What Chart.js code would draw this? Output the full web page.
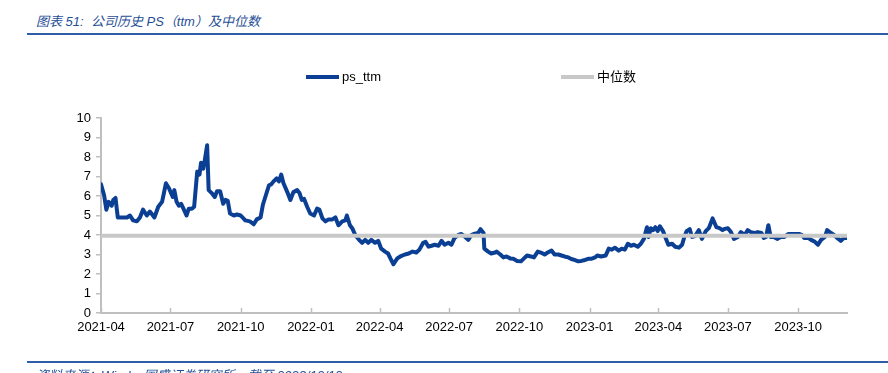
<!DOCTYPE html>
<html>
<head>
<meta charset="utf-8">
<script src="https://cdn.jsdelivr.net/npm/chart.js@4.4.1/dist/chart.umd.min.js"></script>
<style>
  body { margin: 0; width: 888px; height: 373px; overflow: hidden; background: #fff; position: relative; }
  .cap { position: absolute; left: 36px; font-style: italic; font-size: 13px; color: #1f4e96;
         font-family: "Liberation Sans", "Noto Sans CJK SC", sans-serif; white-space: nowrap; }
  .rule { position: absolute; left: 27px; right: 0; height: 2px; background: #2f5ea6; }
  #wrap { position: absolute; left: 0; top: 0; width: 888px; height: 373px; }
</style>
</head>
<body>
<div class="cap" style="top:11px">图表 51:&nbsp; 公司历史 PS（ttm）及中位数</div>
<div class="rule" style="top:33px"></div>
<div id="wrap"><canvas id="chart"></canvas></div>
<div class="rule" style="top:361px"></div>
<div class="cap" style="top:365px">资料来源：Wind，国盛证券研究所，截至 2023/12/12</div>

<script>
// days since 2021-04-01
const startDate = '2021-04-01';
const days = [
  0, 4, 7, 10, 14, 16, 19, 22, 27, 34, 38, 42, 47, 51, 55, 60, 64, 70, 75, 80,
  85, 89, 94, 96, 99, 102, 105, 108, 112, 115, 119, 122, 126, 129, 131, 134, 136, 139, 141, 145,
  149, 152, 156, 160, 163, 166, 169, 174, 178, 183, 189, 195, 200, 204, 209, 212, 216, 220, 223, 226,
  230, 233, 236, 239, 244, 248, 252, 257, 260, 263, 266, 270, 274, 279, 283, 286, 290, 294, 298, 303,
  307, 311, 316, 320, 322, 326, 329, 333, 338, 342, 346, 350, 354, 359, 363, 367, 372, 376, 379, 383,
  388, 392, 398, 403, 408, 413, 417, 422, 425, 429, 433, 437, 442, 446, 450, 455, 459, 463, 468, 472,
  477, 481, 485, 488, 494, 497, 501, 502, 507, 511, 516, 518, 523, 527, 531, 536, 540, 545, 550, 554,
  558, 563, 567, 572, 576, 581, 585, 590, 594, 599, 603, 607, 612, 616, 620, 625, 629, 634, 638, 642,
  647, 650, 655, 661, 665, 669, 673, 678, 682, 686, 690, 694, 698, 703, 707, 711, 715, 717, 720, 723,
  726, 729, 732, 736, 740, 743, 748, 752, 757, 761, 764, 767, 771, 774, 778, 783, 787, 792, 796, 801,
  806, 810, 814, 816, 821, 825, 829, 834, 838, 843, 847, 851, 856, 860, 865, 868, 871, 874, 877, 881,
  886, 890, 895, 900, 905, 909, 915, 918, 921, 926, 930, 935, 939, 943, 948, 951, 956, 960, 964, 969,
  973, 977
];
const psTtm = [
  6.6, 6.05, 5.3, 5.7, 5.5, 5.8, 5.9, 4.9, 4.9, 4.9, 5.0, 4.75, 4.7, 4.9, 5.3, 5.0, 5.2, 4.9, 5.45, 5.7,
  6.65, 6.4, 5.95, 6.3, 5.7, 5.5, 5.6, 5.35, 5.0, 5.35, 5.35, 5.45, 7.25, 7.1, 7.7, 7.4, 7.85, 8.6, 6.3, 6.15,
  5.95, 6.25, 6.25, 5.6, 5.8, 5.75, 5.1, 5.0, 5.05, 5.0, 4.75, 4.7, 4.55, 4.8, 4.9, 5.55, 6.05, 6.55, 6.6, 6.75,
  6.9, 6.75, 7.1, 6.65, 6.2, 5.8, 6.2, 6.3, 6.15, 5.8, 5.85, 5.45, 5.1, 5.0, 5.35, 5.3, 4.85, 4.7, 4.8, 4.8,
  4.9, 4.5, 4.7, 4.75, 5.0, 4.5, 4.35, 4.0, 3.75, 3.6, 3.75, 3.6, 3.75, 3.6, 3.7, 3.3, 3.15, 3.05, 2.8, 2.5,
  2.8, 2.9, 3.0, 3.05, 3.15, 3.1, 3.25, 3.6, 3.65, 3.4, 3.45, 3.5, 3.45, 3.7, 3.5, 3.6, 3.5, 3.85, 4.0, 4.05,
  3.9, 3.75, 4.0, 4.05, 4.1, 4.3, 4.1, 3.3, 3.15, 3.05, 3.1, 3.15, 3.0, 2.85, 2.9, 2.8, 2.78, 2.67, 2.65, 2.8,
  2.95, 2.9, 2.85, 3.15, 3.1, 3.0, 3.1, 3.2, 3.0, 3.0, 2.95, 2.9, 2.85, 2.77, 2.72, 2.65, 2.67, 2.72, 2.78, 2.78,
  2.85, 2.95, 2.9, 2.95, 3.3, 3.25, 3.35, 3.2, 3.3, 3.25, 3.55, 3.45, 3.5, 3.4, 3.55, 3.8, 4.4, 3.9, 4.35, 4.25,
  4.4, 4.2, 4.45, 4.2, 3.8, 3.5, 3.55, 3.4, 3.35, 3.5, 3.9, 4.2, 4.3, 3.9, 3.95, 4.25, 3.8, 4.2, 4.35, 4.85,
  4.4, 4.35, 4.25, 4.3, 4.35, 4.15, 3.8, 3.9, 4.15, 4.0, 4.25, 4.15, 4.1, 4.15, 4.1, 3.85, 3.9, 4.5, 3.9, 3.9,
  3.8, 3.9, 3.9, 4.05, 4.05, 4.05, 4.05, 4.0, 3.85, 3.85, 3.75, 3.65, 3.5, 3.75, 3.9, 4.25, 4.1, 4.0, 3.85, 3.7,
  3.85, 3.85
];
const medianPs = 3.96;
const seriesNames = ['ps_ttm', '中位数'];
const seriesColors = ['#0b3f94', '#c8c8c8'];
const tickLabels = ['2021-04', '2021-07', '2021-10', '2022-01', '2022-04', '2022-07',
                    '2022-10', '2023-01', '2023-04', '2023-07', '2023-10'];

const dayMs = 86400000;
const tickDays = tickLabels.map(t => Math.round((Date.parse(t + '-01') - Date.parse(startDate)) / dayMs));
const lastDay = days[days.length - 1];

// legend drawn as short thick lines, plus inward x ticks
const extras = {
  id: 'extras',
  afterDraw(chart) {
    const ctx = chart.ctx;
    const area = chart.chartArea;
    ctx.save();
    // x tick marks pointing into the plot
    const xs = chart.scales.x;
    ctx.strokeStyle = '#bfbfbf';
    ctx.lineWidth = 1.5;
    tickDays.forEach(d => {
      const px = Math.round(xs.getPixelForValue(d)) + 0.5;
      ctx.beginPath();
      ctx.moveTo(px, area.bottom);
      ctx.lineTo(px, area.bottom - 5);
      ctx.stroke();
    });
    // legend
    ctx.font = '13px "Liberation Sans", "Noto Sans CJK SC", sans-serif';
    ctx.textBaseline = 'middle';
    const lineW = 33, gap = 3, between = 180;
    const widths = seriesNames.map(n => lineW + gap + ctx.measureText(n).width);
    const total = widths[0] + between + widths[1];
    let x = (area.left + area.right) / 2 - 3 - total / 2;
    const y = 77;
    seriesNames.forEach((n, i) => {
      ctx.fillStyle = seriesColors[i];
      ctx.fillRect(x, y - 2, lineW, 4);
      ctx.fillStyle = '#000';
      ctx.fillText(n, x + lineW + gap, y);
      x += widths[i] + between;
    });
    ctx.restore();
  }
};

new Chart(document.getElementById('chart'), {
  type: 'line',
  data: {
    datasets: [
      {
        label: seriesNames[1],
        data: [{ x: days[0], y: medianPs }, { x: lastDay, y: medianPs }],
        borderColor: seriesColors[1],
        borderWidth: 4,
        pointRadius: 0,
        order: 0
      },
      {
        label: seriesNames[0],
        data: days.map((d, i) => ({ x: d, y: psTtm[i] })),
        borderColor: seriesColors[0],
        borderWidth: 4,
        borderJoinStyle: 'round',
        borderCapStyle: 'round',
        pointRadius: 0,
        tension: 0,
        order: 1
      }
    ]
  },
  options: {
    responsive: true,
    maintainAspectRatio: false,
    animation: false,
    layout: { padding: { top: 118, left: 0, right: 41, bottom: 30 } },
    plugins: {
      legend: { display: false },
      tooltip: { enabled: false }
    },
    scales: {
      x: {
        type: 'linear',
        min: 0,
        max: lastDay,
        afterBuildTicks: s => { s.ticks = tickDays.map(v => ({ value: v })); },
        afterFit: s => { s.height = 30; },
        ticks: {
          autoSkip: false,
          maxRotation: 0,
          padding: 7,
          color: '#000',
          font: { family: '"Liberation Sans", Arial, sans-serif', size: 13 },
          callback: (v, i) => tickLabels[i]
        },
        grid: { display: false, drawTicks: false },
        border: { color: '#bfbfbf', width: 2 }
      },
      y: {
        min: 0,
        max: 10,
        afterFit: s => { s.width = 101; },
        ticks: {
          stepSize: 1,
          padding: 5,
          color: '#000',
          font: { family: '"Liberation Sans", Arial, sans-serif', size: 13 }
        },
        grid: { drawOnChartArea: false, drawTicks: true, tickLength: 5, color: '#bfbfbf', lineWidth: 1.5 },
        border: { color: '#bfbfbf', width: 2 }
      }
    }
  },
  plugins: [extras]
});
</script>
</body>
</html>
